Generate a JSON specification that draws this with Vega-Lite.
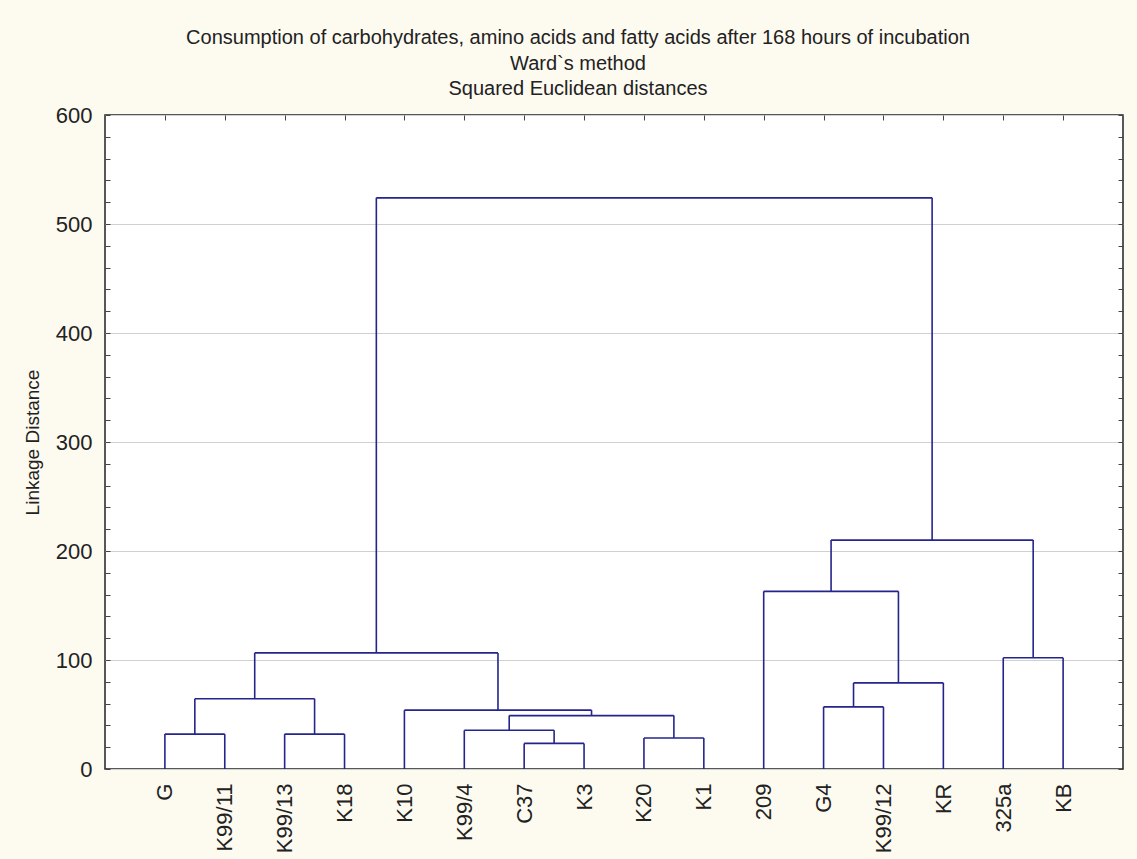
{
  "$schema": "https://vega.github.io/schema/vega-lite/v6.json",
  "width": 1018,
  "height": 654,
  "autosize": {"type": "none"},
  "padding": {"left": 105, "top": 115, "right": 14, "bottom": 90},
  "background": "#fdfaf0",
  "title": {
    "text": ["Consumption of carbohydrates, amino acids and fatty acids after 168 hours of incubation", "Ward`s method", "Squared Euclidean distances"],
    "font": "Liberation Sans",
    "fontSize": 20,
    "fontWeight": "normal",
    "color": "#222222",
    "lineHeight": 25.5,
    "anchor": "middle",
    "dx": -36,
    "offset": 5
  },
  "config": {
    "view": {"fill": "white", "stroke": "#222222", "strokeWidth": 1.5},
    "axis": {"domain": false, "labelFont": "Liberation Sans", "titleFont": "Liberation Sans", "labelColor": "#222222", "titleColor": "#222222"}
  },
  "data": {
    "values": [
      {"xl": 1, "xr": 2, "hl": 0, "hr": 0, "h": 32},
      {"xl": 3, "xr": 4, "hl": 0, "hr": 0, "h": 32},
      {"xl": 1.5, "xr": 3.5, "hl": 32, "hr": 32, "h": 64.5},
      {"xl": 7, "xr": 8, "hl": 0, "hr": 0, "h": 23.5},
      {"xl": 6, "xr": 7.5, "hl": 0, "hr": 23.5, "h": 35.5},
      {"xl": 9, "xr": 10, "hl": 0, "hr": 0, "h": 28.5},
      {"xl": 6.75, "xr": 9.5, "hl": 35.5, "hr": 28.5, "h": 49},
      {"xl": 5, "xr": 8.125, "hl": 0, "hr": 49, "h": 54},
      {"xl": 2.5, "xr": 6.5625, "hl": 64.5, "hr": 54, "h": 106.5},
      {"xl": 12, "xr": 13, "hl": 0, "hr": 0, "h": 57},
      {"xl": 12.5, "xr": 14, "hl": 57, "hr": 0, "h": 79},
      {"xl": 11, "xr": 13.25, "hl": 0, "hr": 79, "h": 163},
      {"xl": 15, "xr": 16, "hl": 0, "hr": 0, "h": 102},
      {"xl": 12.125, "xr": 15.5, "hl": 163, "hr": 102, "h": 210},
      {"xl": 4.53125, "xr": 13.8125, "hl": 106.5, "hr": 210, "h": 524}
    ]
  },
  "resolve": {"axis": {"x": "independent", "y": "independent"}},
  "layer": [
    {
      "mark": {"type": "rule", "color": "#24248c", "strokeWidth": 1.6},
      "encoding": {
        "x": {"field": "xl", "type": "quantitative", "scale": {"domain": [0, 17], "nice": false, "zero": false},
          "axis": {"orient": "bottom", "title": null, "values": [1,2,3,4,5,6,7,8,9,10,11,12,13,14,15,16], "ticks": false, "grid": false, "labelAngle": -90, "labelFontSize": 22, "labelPadding": 14,
            "labelExpr": "['G','K99/11','K99/13','K18','K10','K99/4','C37','K3','K20','K1','209','G4','K99/12','KR','325a','KB'][datum.value - 1]"}},
        "y": {"field": "hl", "type": "quantitative", "scale": {"domain": [0, 600], "nice": false},
          "axis": {"orient": "left", "title": "Linkage Distance", "titleFontSize": 19, "titleFontWeight": "normal", "titlePadding": 13,
            "values": [0,20,40,60,80,100,120,140,160,180,200,220,240,260,280,300,320,340,360,380,400,420,440,460,480,500,520,540,560,580,600],
            "labelExpr": "datum.value % 100 === 0 ? datum.label : ''",
            "labelFontSize": 22, "labelPadding": 18, "tickSize": -5, "tickColor": "#444444",
            "grid": true, "gridColor": "#d0d0d0", "gridWidth": 1,
            "gridOpacity": {"condition": {"test": "datum.value % 100 === 0", "value": 1}, "value": 0}}},
        "y2": {"field": "h"}
      }
    },
    {
      "mark": {"type": "rule", "color": "#24248c", "strokeWidth": 1.6},
      "encoding": {
        "x": {"field": "xr", "type": "quantitative", "scale": {"domain": [0, 17], "nice": false, "zero": false},
          "axis": {"orient": "top", "title": null, "values": [1,2,3,4,5,6,7,8,9,10,11,12,13,14,15,16], "labels": false, "grid": false, "tickSize": -5, "tickColor": "#444444"}},
        "y": {"field": "hr", "type": "quantitative", "scale": {"domain": [0, 600], "nice": false},
          "axis": {"orient": "right", "title": null, "labels": false, "grid": false,
            "values": [0,20,40,60,80,100,120,140,160,180,200,220,240,260,280,300,320,340,360,380,400,420,440,460,480,500,520,540,560,580,600],
            "tickSize": -5, "tickColor": "#444444"}},
        "y2": {"field": "h"}
      }
    },
    {
      "mark": {"type": "rule", "color": "#24248c", "strokeWidth": 1.6},
      "encoding": {
        "x": {"field": "xl", "type": "quantitative", "scale": {"domain": [0, 17], "nice": false, "zero": false}, "axis": null},
        "x2": {"field": "xr"},
        "y": {"field": "h", "type": "quantitative", "scale": {"domain": [0, 600], "nice": false}, "axis": null}
      }
    }
  ]
}
